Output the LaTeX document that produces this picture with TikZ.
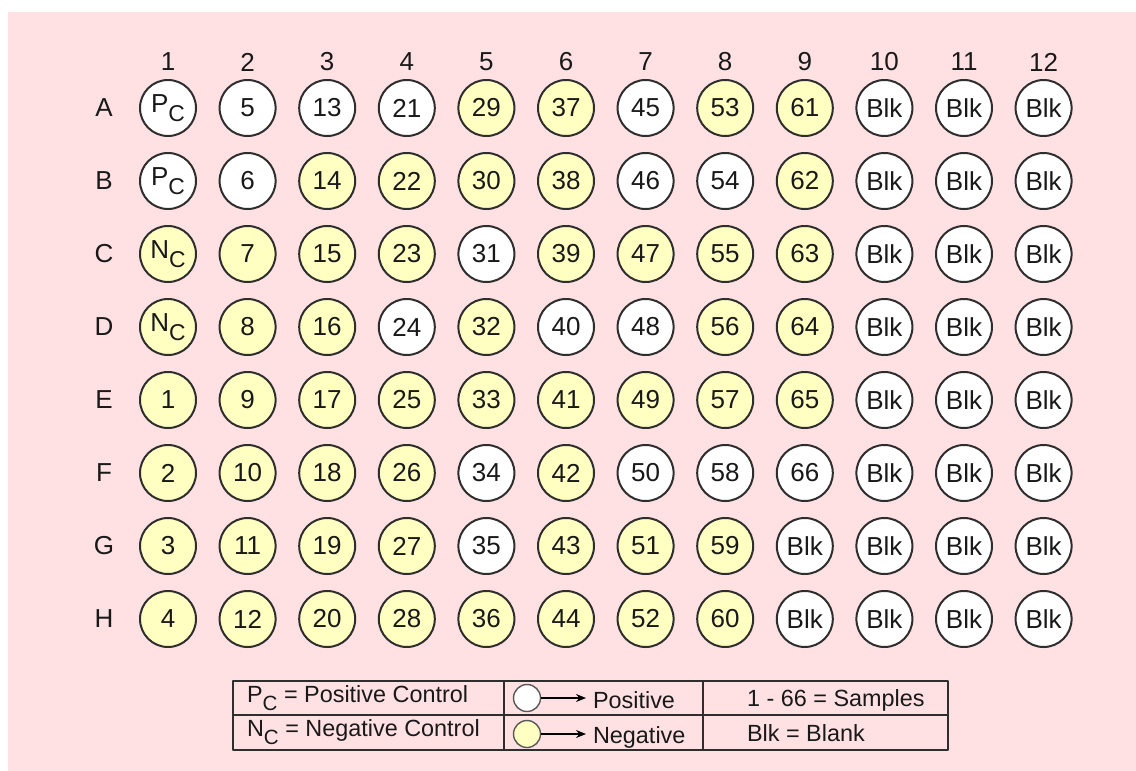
\documentclass[tikz,border=0pt]{standalone}
\usepackage{fontspec}
\setmainfont{Liberation Sans}
\usetikzlibrary{arrows.meta, positioning}
\definecolor{platebg}{HTML}{FFE0E3}
\definecolor{negfill}{HTML}{FFFFC2}
\definecolor{posfill}{HTML}{FFFFFF}
\definecolor{wellline}{HTML}{2E2E2E}
% control labels with a lowered, smaller C
\newcommand\subc{\raisebox{-0.33em}{\scalebox{0.88}{C}}}
\newcommand\pc{P\subc}
\newcommand\nc{N\subc}
\tikzset{
  >={Stealth[length=5pt, width=4pt]},
  every picture/.style={line cap=round, line join=round},
  every node/.style={font=\fontsize{13pt}{15pt}\selectfont, text=black!90},
  well/.style={circle, draw=wellline, line width=1pt, minimum size=28pt, inner sep=0pt},
  poswell/.style={well, fill=posfill},
  negwell/.style={well, fill=negfill},
  keywell/.style={circle, draw=wellline!80, line width=0.7pt, minimum size=13.5pt, inner sep=0pt},
  keytext/.style={anchor=west, font=\fontsize{11.7pt}{14pt}\selectfont},
  grid/.style={draw=wellline, line width=0.9pt},
}
\begin{document}
\begin{tikzpicture}[x=0.5pt, y=-0.5pt]
  \useasboundingbox (0,0) rectangle (1136,771);
  \fill[platebg] (8,12) rectangle (1136,771);
  % ---------- column and row labels
  \foreach \j in {1,...,12}
    \node (c\j) at ({168+(\j-1)*79.6}, 62) {\j};
  % ---------- the wells, row by row
  \foreach \r/\lst [count=\i] in {
      A/{\pc/poswell,5/poswell,13/poswell,21/poswell,29/negwell,37/negwell,45/poswell,53/negwell,61/negwell,Blk/poswell,Blk/poswell,Blk/poswell},
      B/{\pc/poswell,6/poswell,14/negwell,22/negwell,30/negwell,38/negwell,46/poswell,54/poswell,62/negwell,Blk/poswell,Blk/poswell,Blk/poswell},
      C/{\nc/negwell,7/negwell,15/negwell,23/negwell,31/poswell,39/negwell,47/negwell,55/negwell,63/negwell,Blk/poswell,Blk/poswell,Blk/poswell},
      D/{\nc/negwell,8/negwell,16/negwell,24/poswell,32/negwell,40/poswell,48/poswell,56/negwell,64/negwell,Blk/poswell,Blk/poswell,Blk/poswell},
      E/{1/negwell,9/negwell,17/negwell,25/negwell,33/negwell,41/negwell,49/negwell,57/negwell,65/negwell,Blk/poswell,Blk/poswell,Blk/poswell},
      F/{2/negwell,10/negwell,18/negwell,26/negwell,34/poswell,42/negwell,50/poswell,58/poswell,66/poswell,Blk/poswell,Blk/poswell,Blk/poswell},
      G/{3/negwell,11/negwell,19/negwell,27/negwell,35/poswell,43/negwell,51/negwell,59/negwell,Blk/poswell,Blk/poswell,Blk/poswell,Blk/poswell},
      H/{4/negwell,12/negwell,20/negwell,28/negwell,36/negwell,44/negwell,52/negwell,60/negwell,Blk/poswell,Blk/poswell,Blk/poswell,Blk/poswell}}{
    \node (r\r) at (104, {108+(\i-1)*73}) {\r};
    \foreach \t/\c [count=\j] in \lst
      \node[\c] (\r\j) at ({168+(\j-1)*79.6}, {108+(\i-1)*73}) {\t};
  }
  % ---------- key
  \draw[grid] (233,681) rectangle (948,750);
  \draw[grid] (233,715) -- (948,715);
  \draw[grid] (504,681) -- (504,750) (703,681) -- (703,750);
  \node[keytext] (pcTxt) at (240,698) {\pc{} = Positive Control};
  \node[keytext] (ncTxt) at (240,732) {\nc{} = Negative Control};
  \node[keywell, fill=posfill] (keyPos) at (527,698) {};
  \node[keywell, fill=negfill] (keyNeg) at (527,734) {};
  \node[keytext] (posTxt) at (586,700) {Positive};
  \node[keytext] (negTxt) at (586,737) {Negative};
  \draw[->, line width=0.6pt] (keyPos) -- (posTxt.west|-keyPos);
  \draw[->, line width=0.6pt] (keyNeg) -- (negTxt.west|-keyNeg);
  \node[keytext] (smpTxt) at (740,700) {1 - 66 = Samples};
  \node[keytext] (blkTxt) at (740,733) {Blk = Blank};
\end{tikzpicture}
\end{document}
